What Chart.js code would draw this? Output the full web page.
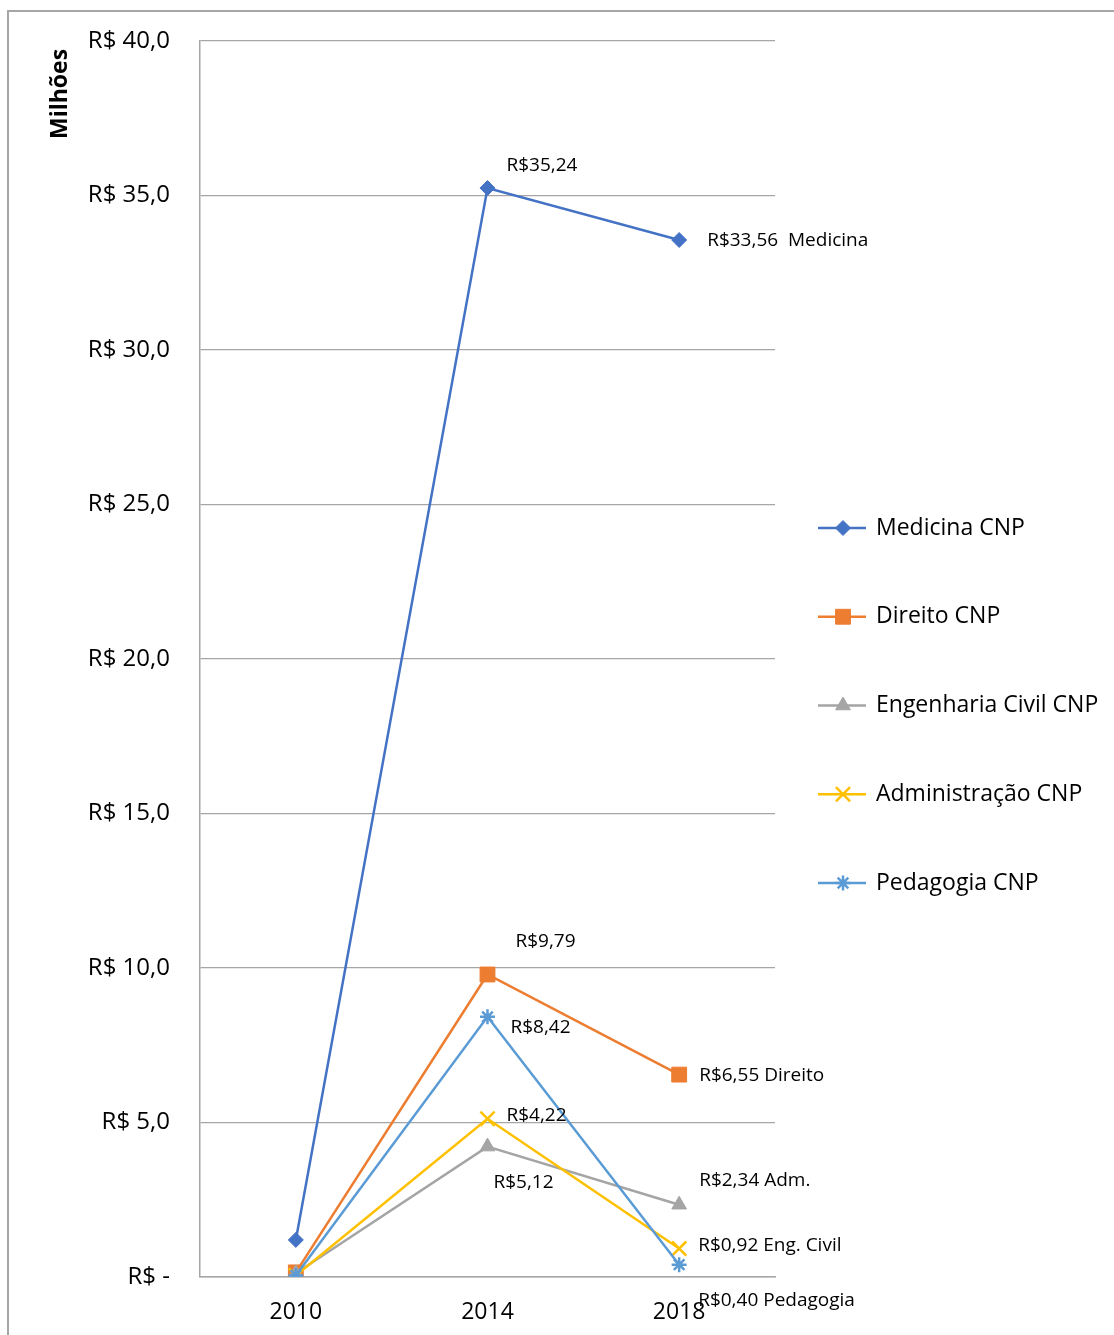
<!DOCTYPE html>
<html lang="pt-BR">
<head>
<meta charset="utf-8">
<title>Evolução CNP por curso</title>
<script src="https://cdn.jsdelivr.net/npm/chart.js@4.4.1/dist/chart.umd.min.js"></script>
<style>
  html, body { margin: 0; padding: 0; background: #fff; }
  #wrap { position: relative; width: 1114px; height: 1335px; overflow: hidden; }
  #frame { position: absolute; left: 7px; top: 10px; width: 1200px; height: 1400px;
           border-left: 2px solid #a6a6a6; border-top: 2px solid #a6a6a6; }
  #chart { position: absolute; left: 0; top: 0; }
</style>
</head>
<body>
<div id="wrap">
  <div id="frame"></div>
  <canvas id="chart" width="1114" height="1335"></canvas>
</div>
<script>
/* ─── Dados (R$ milhões) ─── */
const anos = ['2010', '2014', '2018'];

const medicina   = [1.20, 35.24, 33.56];
const direito    = [0.15, 9.79, 6.55];
const engenharia = [0.12, 4.22, 2.34];
const adm        = [0.05, 5.12, 0.92];
const pedagogia  = [0.05, 8.42, 0.40];

const nomes = ['Medicina CNP', 'Direito CNP', 'Engenharia Civil CNP', 'Administração CNP', 'Pedagogia CNP'];

// sufixo de cada rótulo (null = sem rótulo)
const sufMedicina   = [null, '', '  Medicina'];
const sufDireito    = [null, '', ' Direito'];
const sufEngenharia = [null, '', ' Adm.'];
const sufAdm        = [null, '', ' Eng. Civil'];
const sufPedagogia  = [null, '', ' Pedagogia'];

const yMin = 0, yMax = 40, yPasso = 5;
const tituloY = 'Milhões';

/* ─── Estilo ─── */
const FONT = "'Open Sans', 'Noto Sans', sans-serif";
const cores = ['#4472C4', '#ED7D31', '#A5A5A5', '#FFC000', '#5B9BD5'];
const marcadores = [
  { pointStyle: 'rectRot',  radius: 7.5 },
  { pointStyle: 'rect',     radius: 10.5 },
  { pointStyle: 'triangle', radius: 8.5 },
  { pointStyle: 'crossRot', radius: 10 },
  { pointStyle: 'star',     radius: 7.5 }
];

// deslocamento (px) de cada rótulo em relação ao ponto
const deslocRotulos = [
  [null, [19, -22], [28, 1]],
  [null, [28, -33], [20, 1]],
  [null, [19, -31], [20, -24]],
  [null, [6, 64],   [19, -3]],
  [null, [23, 11],  [19, 36]]
];

const series = [medicina, direito, engenharia, adm, pedagogia];
const sufixos = [sufMedicina, sufDireito, sufEngenharia, sufAdm, sufPedagogia];

function fmtRS(v) {
  return 'R$' + v.toFixed(2).replace('.', ',');
}

const datasets = series.map((dados, i) => ({
  label: nomes[i],
  data: dados,
  borderColor: cores[i],
  backgroundColor: cores[i],
  borderWidth: 2.5,
  pointStyle: marcadores[i].pointStyle,
  pointRadius: marcadores[i].radius,
  pointHoverRadius: marcadores[i].radius,
  pointBorderColor: cores[i],
  pointBackgroundColor: cores[i],
  pointBorderWidth: (i >= 3) ? 2.5 : 1,
  tension: 0,
  fill: false,
  order: series.length - i
}));

/* ─── Rótulos de dados ─── */
const rotulosPlugin = {
  id: 'rotulos',
  afterDatasetsDraw(chart) {
    const ctx = chart.ctx;
    ctx.save();
    ctx.font = '19px ' + FONT;
    ctx.fillStyle = '#000';
    ctx.textBaseline = 'middle';
    ctx.textAlign = 'left';
    chart.data.datasets.forEach((ds, i) => {
      const meta = chart.getDatasetMeta(i);
      meta.data.forEach((pt, j) => {
        const suf = sufixos[i][j];
        if (suf === null) return;
        const d = deslocRotulos[i][j];
        ctx.fillText(fmtRS(ds.data[j]) + suf, pt.x + d[0], pt.y + d[1]);
      });
    });
    ctx.restore();
  }
};

/* ─── Título do eixo Y (no topo, girado) ─── */
const tituloPlugin = {
  id: 'tituloEixo',
  afterDraw(chart) {
    const ctx = chart.ctx;
    ctx.save();
    ctx.translate(60, 139);
    ctx.rotate(-Math.PI / 2);
    ctx.font = 'bold 23px ' + FONT;
    ctx.fillStyle = '#000';
    ctx.textAlign = 'left';
    ctx.textBaseline = 'middle';
    ctx.fillText(tituloY, 0, 0);
    ctx.restore();
  }
};

/* ─── Legenda (linha + marcador, estilo planilha) ─── */
const legendaPlugin = {
  id: 'legendaLateral',
  afterDraw(chart) {
    const ctx = chart.ctx;
    const x0 = chart.chartArea.right + 43;
    const y0 = 528, passo = 88.75;
    ctx.save();
    ctx.font = '23px ' + FONT;
    ctx.textBaseline = 'middle';
    ctx.textAlign = 'left';
    chart.data.datasets.forEach((ds, i) => {
      const y = y0 + i * passo;
      ctx.strokeStyle = ds.borderColor;
      ctx.fillStyle = ds.backgroundColor;
      ctx.lineWidth = 2.5;
      ctx.beginPath();
      ctx.moveTo(x0, y);
      ctx.lineTo(x0 + 48, y);
      ctx.stroke();
      ctx.lineWidth = ds.pointBorderWidth;
      Chart.helpers.drawPoint(ctx, {
        pointStyle: ds.pointStyle,
        radius: ds.pointRadius,
        borderWidth: ds.pointBorderWidth,
        rotation: 0
      }, x0 + 25, y);
      ctx.fillStyle = '#000';
      ctx.fillText(ds.label, x0 + 58, y);
    });
    ctx.restore();
  }
};

new Chart(document.getElementById('chart'), {
  type: 'line',
  data: { labels: anos, datasets: datasets },
  options: {
    responsive: false,
    animation: false,
    layout: { padding: { top: 41, right: 339, bottom: 0, left: 0 } },
    plugins: {
      legend: { display: false },
      tooltip: { enabled: false }
    },
    scales: {
      x: {
        offset: true,
        grid: { display: false, drawTicks: false },
        border: { display: true, color: '#a6a6a6', width: 1.5 },
        ticks: { color: '#000', font: { family: FONT, size: 23 }, padding: 22 },
        afterFit(scale) { scale.height = 58; }
      },
      y: {
        min: yMin,
        max: yMax,
        grid: { color: '#a6a6a6', lineWidth: 1.2, drawTicks: false },
        border: { display: true, color: '#a6a6a6', width: 1.5 },
        ticks: {
          stepSize: yPasso,
          color: '#000',
          font: { family: FONT, size: 24 },
          padding: 30,
          callback: v => v === 0 ? 'R$ -' : 'R$ ' + v.toFixed(1).replace('.', ',')
        },
        afterFit(scale) {
          scale.width = 200;
          // o padding horizontal dos rótulos não deve empurrar a área do gráfico
          scale.paddingTop = 0;
          scale.paddingBottom = 0;
        }
      }
    }
  },
  plugins: [rotulosPlugin, tituloPlugin, legendaPlugin]
});
</script>
</body>
</html>
